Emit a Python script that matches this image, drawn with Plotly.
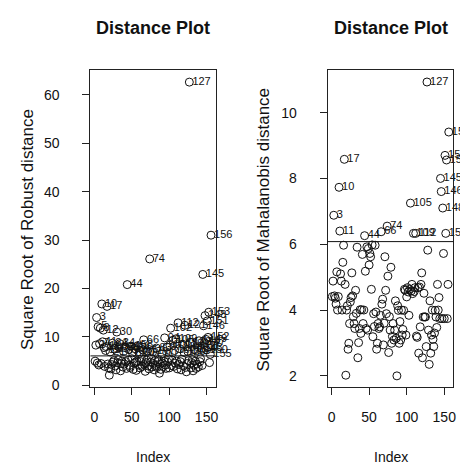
import plotly.graph_objects as go

index = list(range(1, 157))

robust_dist = [
    5.0, 8.3, 14.0, 4.6, 12.1, 4.2, 8.6, 11.8, 4.5, 16.8,
    9.0, 11.4, 7.8, 3.9, 7.2, 8.0, 16.3, 4.4, 3.6, 2.1,
    6.9, 3.4, 4.3, 8.7, 4.8, 5.1, 7.5, 4.0, 3.2, 11.0,
    4.7, 5.3, 7.9, 8.6, 3.0, 4.5, 5.0, 3.8, 7.0, 4.4,
    7.8, 4.9, 3.5, 20.8, 5.2, 7.4, 4.1, 3.7, 8.1, 5.5,
    6.7, 3.3, 4.6, 7.6, 4.8, 3.1, 5.0, 8.2, 4.2, 6.6,
    3.6, 4.9, 5.4, 3.9, 7.3, 9.4, 4.3, 2.9, 4.7, 5.2,
    7.1, 4.0, 3.4, 26.1, 4.8, 5.6, 3.8, 6.9, 4.5, 3.2,
    5.1, 4.1, 7.7, 3.7, 4.9, 5.3, 2.5, 4.4, 3.3, 6.5,
    4.6, 3.9, 5.0, 9.8, 4.2, 3.5, 7.9, 4.8, 5.5, 3.6,
    8.3, 11.8, 4.1, 5.2, 9.3, 3.9, 7.2, 4.6, 9.6, 5.0,
    3.4, 12.9, 4.3, 7.6, 4.9, 3.2, 5.4, 8.5, 4.0, 6.8,
    12.4, 3.7, 2.8, 4.5, 7.0, 5.1, 62.6, 8.9, 3.6, 4.7,
    5.3, 3.0, 4.2, 7.4, 5.0, 3.5, 4.4, 8.0, 3.8, 9.2,
    4.9, 5.5, 7.6, 4.1, 22.9, 12.3, 8.8, 14.4, 9.5, 7.3,
    13.3, 9.9, 15.1, 4.7, 6.4, 31.0,
]

mahal_dist = [
    4.41, 4.88, 6.88, 4.43, 4.36, 4.18, 5.16, 4.00, 4.41, 7.73,
    6.40, 5.10, 4.88, 4.00, 5.45, 5.97, 8.58, 4.78, 2.02, 4.00,
    4.13, 2.81, 2.99, 3.59, 4.25, 4.38, 5.13, 4.43, 3.80, 3.59,
    3.44, 4.60, 3.90, 5.91, 2.55, 3.01, 3.44, 4.01, 3.29, 4.01,
    5.69, 3.59, 4.00, 6.26, 5.18, 3.44, 5.92, 3.39, 5.87, 5.37,
    5.72, 5.62, 4.63, 5.98, 3.19, 3.89, 3.50, 5.97, 3.94, 2.81,
    2.99, 3.59, 3.44, 3.49, 3.84, 6.38, 4.18, 4.33, 2.94, 3.60,
    5.62, 4.60, 3.89, 6.55, 5.03, 2.71, 3.80, 3.39, 5.30, 2.99,
    3.20, 3.59, 3.09, 3.39, 4.28, 3.14, 2.00, 4.13, 3.99, 2.99,
    3.65, 3.09, 4.00, 3.24, 3.41, 3.99, 4.63, 4.60, 3.24, 4.40,
    4.68, 4.55, 3.84, 4.63, 7.25, 4.58, 4.78, 4.50, 6.33, 4.56,
    4.68, 6.33, 3.21, 3.17, 4.68, 2.69, 4.70, 3.49, 4.78, 5.13,
    2.55, 3.79, 4.51, 3.79, 3.79, 2.89, 10.93, 5.82, 3.39, 2.35,
    4.28, 2.69, 3.24, 4.00, 3.11, 2.89, 3.30, 3.99, 3.79, 3.47,
    4.78, 4.00, 4.38, 3.74, 8.00, 7.60, 3.74, 7.10, 5.72, 3.74,
    8.70, 6.33, 8.56, 3.74, 4.78, 9.41,
]

cutoff = 6.08
x_ticks = [0, 50, 100, 150]
robust_ticks = [0, 10, 20, 30, 40, 50, 60]
mahal_ticks = [2, 4, 6, 8, 10]

FONT = "Liberation Sans, Arial, sans-serif"
W, H = 468, 466


def labels(vals):
    return ["\u00a0" + str(i) if v > cutoff else "" for i, v in zip(index, vals)]


fig = go.Figure()
for vals, xa, ya in [(robust_dist, "x", "y"), (mahal_dist, "x2", "y2")]:
    fig.add_trace(go.Scatter(
        x=index, y=vals, xaxis=xa, yaxis=ya, mode="markers",
        marker=dict(symbol="circle-open", size=8, color="#111", line=dict(width=1, color="#111")),
        cliponaxis=False, showlegend=False, hoverinfo="skip",
    ))
    fig.add_trace(go.Scatter(
        x=index, y=vals, xaxis=xa, yaxis=ya, mode="text",
        text=labels(vals), textposition="middle right",
        textfont=dict(family=FONT, size=11, color="#111"),
        cliponaxis=False, showlegend=False, hoverinfo="skip",
    ))

# cutoff lines
for xr, yr in [("x domain", "y"), ("x2 domain", "y2")]:
    fig.add_shape(type="line", xref=xr, yref=yr, x0=0, x1=1, y0=cutoff, y1=cutoff,
                  line=dict(color="#111", width=1))


def dx(px):
    return px / W


def dy(py):
    return (H - py) / H


axis_common = dict(showline=True, mirror=True, linecolor="#222", linewidth=1,
                   ticks="outside", ticklen=7, tickcolor="#222", showgrid=False,
                   zeroline=False, tickfont=dict(family=FONT, size=14, color="#111"))

fig.update_layout(
    width=W, height=H, margin=dict(l=0, r=0, t=0, b=0),
    paper_bgcolor="white", plot_bgcolor="white",
    xaxis=dict(domain=[dx(83), dx(209)], range=[-5.2, 162.2], tickvals=x_ticks,
               ticklabelstandoff=10, anchor="y", **axis_common),
    yaxis=dict(domain=[dy(384), dy(63.3)], range=[-0.35, 65.0], tickvals=robust_ticks,
               ticklabelstandoff=20, anchor="x", **axis_common),
    xaxis2=dict(domain=[dx(321.7), dx(448.3)], range=[-5.2, 162.2], tickvals=x_ticks,
                ticklabelstandoff=10, anchor="y2", **axis_common),
    yaxis2=dict(domain=[dy(384), dy(63.3)], range=[1.66, 11.28], tickvals=mahal_ticks,
                ticklabelstandoff=20, anchor="x2", **axis_common),
)

ann = [
    dict(text="<b>Distance Plot</b>", x=dx(146), y=dy(20), size=18),
    dict(text="<b>Distance Plot</b>", x=dx(385), y=dy(20), size=18),
    dict(text="Index", x=dx(146), y=dy(455), size=14),
    dict(text="Index", x=dx(385), y=dy(455), size=14),
    dict(text="Square Root of Robust distance", x=dx(19), y=dy(224), size=17, angle=-90),
    dict(text="Square Root of Mahalanobis distance", x=dx(257), y=dy(224), size=17, angle=-90),
]
for a in ann:
    fig.add_annotation(text=a["text"], x=a["x"], y=a["y"], xref="paper", yref="paper",
                       xanchor="center", yanchor="middle", showarrow=False,
                       textangle=a.get("angle", 0),
                       font=dict(family=FONT, size=a["size"], color="#111"))

fig.write_html("out.html")
